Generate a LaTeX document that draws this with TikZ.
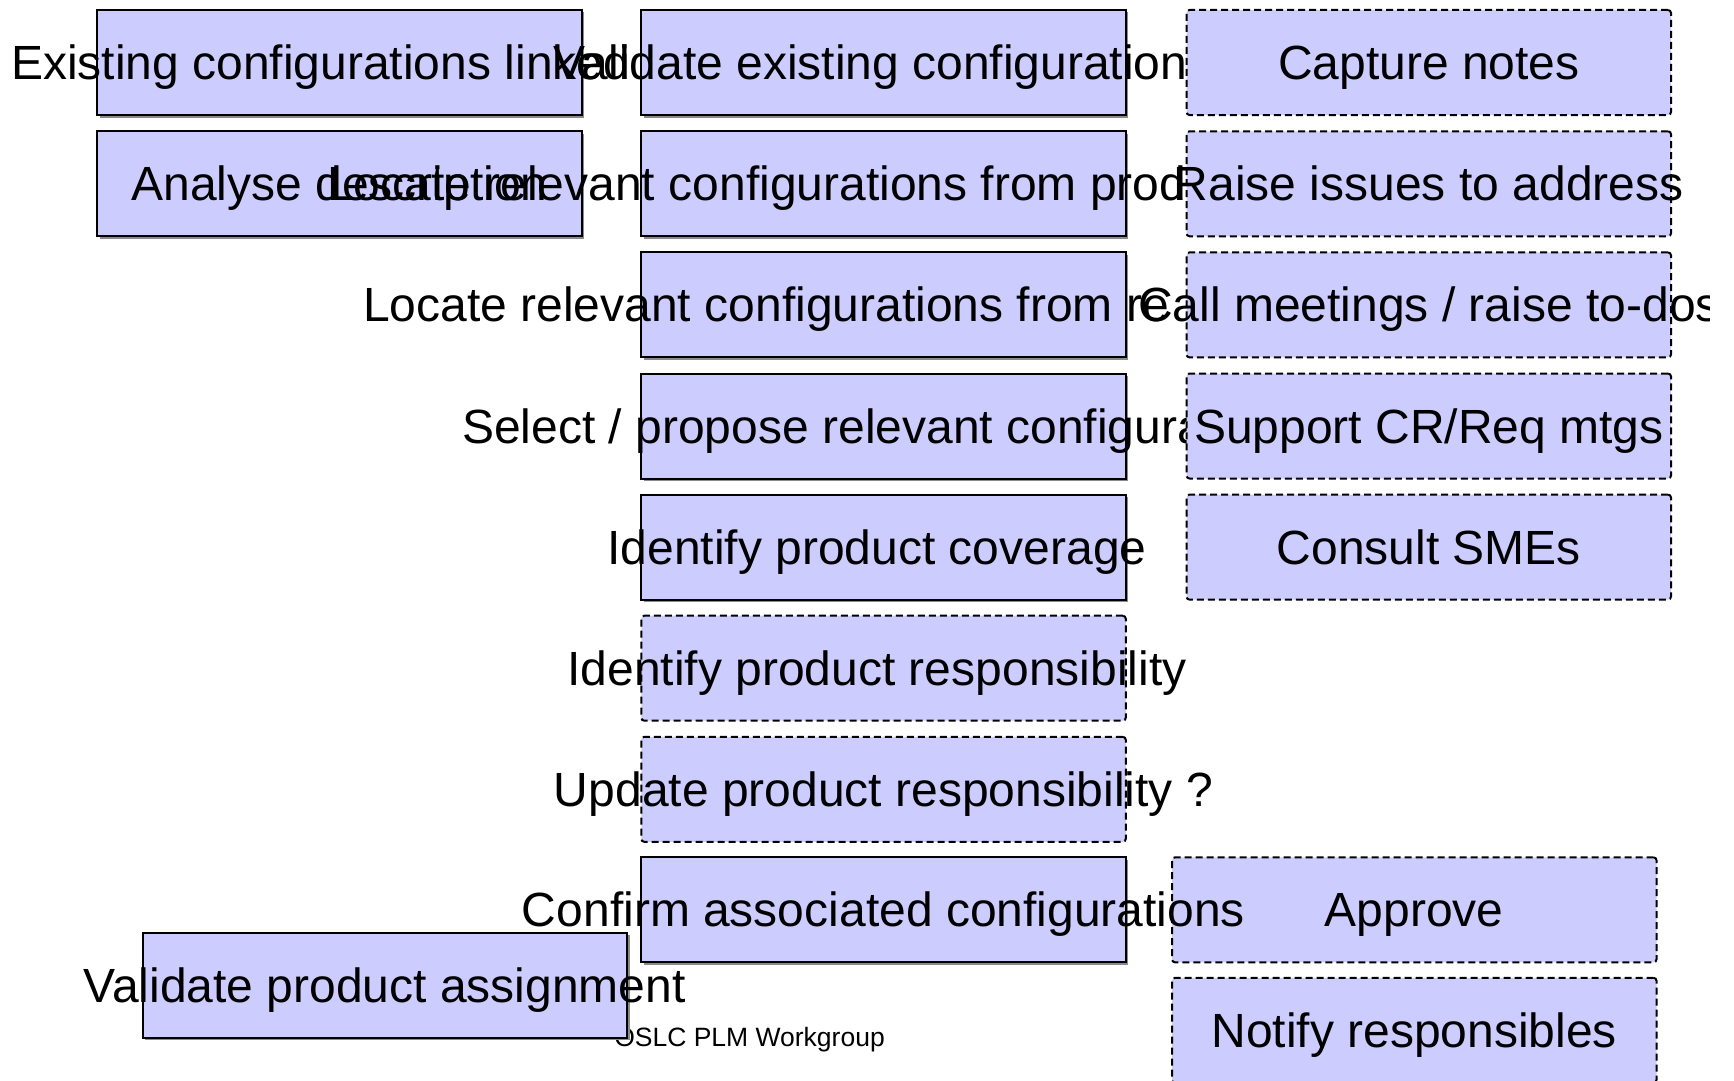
\documentclass[tikz,border=0pt]{standalone}
\usepackage{fontspec}
\setmainfont{Liberation Sans}
\usetikzlibrary{shadows}
\definecolor{boxfill}{HTML}{CCCCFF}
\definecolor{boxshade}{HTML}{8A8A8A}
\tikzset{
  boxbase/.style={line width=2pt, fill=boxfill, minimum width=484.5pt,
    minimum height=105pt, inner sep=0pt, outer sep=0pt},
  solidbox/.style={boxbase, draw=black,
    drop shadow={shadow xshift=2.5pt, shadow yshift=-2.5pt, fill=boxshade, opacity=1}},
  dashbox/.style={boxbase, draw=black, dash pattern=on 7pt off 4pt, rounded corners=3pt},
  lbl/.style={font=\fontsize{48}{57}\selectfont, inner sep=0pt,
    text height=34pt, text depth=0pt},
  lblw/.style={lbl, anchor=west},
  footer/.style={font=\fontsize{26.5}{32}\selectfont, inner sep=0pt,
    text height=19pt, text depth=0pt},
}
\begin{document}
\begin{tikzpicture}[x=1pt, y=-1pt]
  \useasboundingbox (0,0) rectangle (1734,1081);
  \fill[white] (0,0) rectangle (1734,1081);
  \clip (0,0) rectangle (1709,1081);

  % row 1
  \node[solidbox] (a1) at (339.5,62.5) {};
  \node[lblw] (ta1) at (11,62.5) {Existing configurations linked};
  \node[solidbox] (b1) at (883.5,62.5) {};
  \node[lblw] (tb1) at (553,62.5) {Validate existing configuration};
  \node[dashbox] (c1) at (1428.75,62.5) {};
  \node[lbl] (tc1) at (c1) {Capture notes};

  % row 2
  \node[solidbox] (a2) at (339.5,183.8) {};
  \node[lbl] (ta2) at (a2) {Analyse description};
  \node[solidbox] (b2) at (883.5,183.8) {};
  \node[lblw] (tb2) at (327,183.8) {Locate relevant configurations from prod};
  \node[dashbox] (c2) at (1428.75,183.8) {};
  \node[lbl] (tc2) at (c2) {Raise issues to address};

  % row 3
  \node[solidbox] (b3) at (883.5,304.9) {};
  \node[lblw] (tb3) at (363,304.9) {Locate relevant configurations from re};
  \node[dashbox] (c3) at (1428.75,304.9) {};
  \node[lblw] (tc3) at (1138,304.9) {Call meetings / raise to-dos};

  % row 4
  \node[solidbox] (b4) at (883.5,426) {};
  \node[lblw] (tb4) at (462,426) {Select / propose relevant configura};
  \node[dashbox] (c4) at (1428.75,426) {};
  \node[lbl] (tc4) at (c4) {Support CR/Req mtgs};

  % row 5
  \node[solidbox] (b5) at (883.5,547.1) {};
  \node[lbl, xshift=-6.5pt] (tb5) at (b5) {Identify product coverage};
  \node[dashbox] (c5) at (1428.75,547.1) {};
  \node[lbl] (tc5) at (c5) {Consult SMEs};

  % rows 6 and 7
  \node[dashbox] (b6) at (883.5,668.2) {};
  \node[lbl, xshift=-6.5pt] (tb6) at (b6) {Identify product responsibility};
  \node[dashbox] (b7) at (883.5,789.3) {};
  \node[lbl] (tb7) at (b7) {Update product responsibility ?};

  % row 8
  \node[solidbox] (b8) at (883.5,909.8) {};
  \node[dashbox] (d8) at (1414.25,909.8) {};
  \node[lbl] (tb8) at (b8) {Confirm associated configurations};
  \node[lbl] (td8) at (d8) {Approve};

  % footer and last boxes
  \node[footer] (foot) at (749.5,1037) {OSLC PLM Workgroup};
  \node[solidbox] (a9) at (384.75,985) {};
  \node[lbl] (ta9) at (a9) {Validate product assignment};
  \node[dashbox] (d9) at (1414.25,1030.3) {};
  \node[lbl] (td9) at (d9) {Notify responsibles};
\end{tikzpicture}
\end{document}
